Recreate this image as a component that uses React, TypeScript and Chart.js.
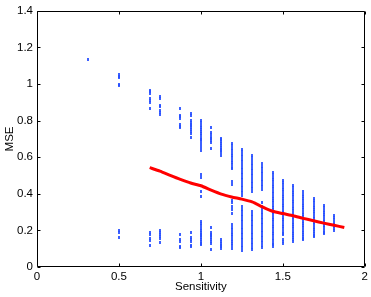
import React, { useEffect, useRef } from 'react';
import { Chart, registerables } from 'chart.js';

Chart.register(...registerables);

// Sensitivity value of every column of MSE samples
const sensitivityColumns = [
  0.3125, 0.5, 0.6875, 0.75, 0.875, 0.9375, 1.0, 1.0625, 1.125, 1.1875,
  1.25, 1.3125, 1.375, 1.4375, 1.5, 1.5625, 1.625, 1.6875, 1.75, 1.8125,
];

// MSE samples of each column (same order as sensitivityColumns)
const mseColumns: number[][] = [
  [1.135],
  [1.05, 1.043, 1.036, 1.0, 0.993, 0.2, 0.19, 0.162],
  [0.965, 0.957, 0.948, 0.92, 0.91, 0.9, 0.865, 0.19, 0.18, 0.155, 0.147, 0.12],
  [0.93, 0.92, 0.885, 0.875, 0.855, 0.847, 0.832, 0.2, 0.19, 0.175, 0.165, 0.155, 0.135],
  [0.868, 0.83, 0.82, 0.81, 0.78, 0.77, 0.762, 0.178, 0.148, 0.138, 0.114, 0.105],
  [0.84, 0.828, 0.8, 0.79, 0.78, 0.772, 0.76, 0.75, 0.74, 0.73, 0.71, 0.19, 0.16, 0.15, 0.14, 0.12, 0.11],
  [0.8, 0.79, 0.775, 0.76, 0.75, 0.74, 0.73, 0.72, 0.705, 0.695, 0.685, 0.67, 0.655, 0.635,
    0.505, 0.49, 0.415, 0.388,
    0.25, 0.24, 0.228, 0.21, 0.2, 0.19, 0.18, 0.17, 0.16, 0.15, 0.14, 0.13, 0.122],
  [0.762, 0.735, 0.722, 0.71, 0.7, 0.69, 0.68, 0.65,
    0.215, 0.19, 0.18, 0.17, 0.16, 0.15, 0.14, 0.13, 0.096],
  [0.705, 0.695, 0.685, 0.675, 0.665, 0.655, 0.645, 0.635, 0.625, 0.612,
    0.15, 0.14, 0.13, 0.12, 0.11, 0.1],
  [0.675, 0.662, 0.649, 0.636, 0.623, 0.61, 0.597, 0.584, 0.571, 0.558, 0.545, 0.537,
    0.465, 0.452, 0.365, 0.35, 0.33, 0.315, 0.295,
    0.23, 0.218, 0.205, 0.19, 0.178, 0.165, 0.15, 0.14, 0.128, 0.115, 0.103],
  [0.643, 0.63, 0.616, 0.602, 0.588, 0.574, 0.56, 0.546, 0.532, 0.518, 0.504, 0.49, 0.476,
    0.462, 0.448, 0.434, 0.42, 0.405, 0.39,
    0.33, 0.316, 0.302, 0.288, 0.274, 0.26, 0.246, 0.232, 0.218, 0.204, 0.19, 0.176, 0.162,
    0.148, 0.134, 0.12, 0.108, 0.09],
  [0.61, 0.596, 0.582, 0.568, 0.554, 0.54, 0.526, 0.512, 0.498, 0.484, 0.47, 0.456, 0.442,
    0.428, 0.413,
    0.303, 0.289, 0.275, 0.261, 0.247, 0.233, 0.219, 0.205, 0.191, 0.177, 0.163, 0.149,
    0.135, 0.121, 0.107, 0.093],
  [0.565, 0.551, 0.537, 0.523, 0.509, 0.495, 0.481, 0.467, 0.453, 0.439, 0.425,
    0.35, 0.33, 0.315, 0.3, 0.286, 0.272, 0.258, 0.244, 0.23, 0.216, 0.202, 0.188, 0.174,
    0.16, 0.146, 0.132, 0.118, 0.105],
  [0.514, 0.503, 0.49, 0.478, 0.465, 0.452, 0.44, 0.427, 0.414, 0.401, 0.388, 0.376, 0.363,
    0.35, 0.337, 0.324, 0.312, 0.299, 0.286, 0.273, 0.26, 0.247, 0.235, 0.222, 0.209, 0.196,
    0.183, 0.17, 0.158, 0.145, 0.13, 0.122, 0.112],
  [0.474, 0.462, 0.449, 0.437, 0.424, 0.411, 0.399, 0.386, 0.374, 0.361, 0.348, 0.336, 0.323,
    0.31, 0.298, 0.285, 0.272, 0.26, 0.247, 0.234, 0.222, 0.209, 0.196, 0.184, 0.176, 0.15,
    0.142, 0.13],
  [0.445, 0.433, 0.42, 0.408, 0.395, 0.383, 0.37, 0.358, 0.345, 0.333, 0.32, 0.308, 0.295,
    0.283, 0.27, 0.258, 0.245, 0.233, 0.22, 0.208, 0.195, 0.183, 0.17, 0.16, 0.148, 0.139],
  [0.41, 0.398, 0.386, 0.373, 0.361, 0.349, 0.337, 0.324, 0.312, 0.3, 0.288, 0.275, 0.263,
    0.251, 0.239, 0.226, 0.214, 0.202, 0.19, 0.178, 0.167, 0.158, 0.152],
  [0.374, 0.362, 0.35, 0.338, 0.326, 0.314, 0.302, 0.29, 0.278, 0.266, 0.254, 0.242, 0.23,
    0.218, 0.206, 0.194, 0.182, 0.174, 0.166],
  [0.336, 0.325, 0.31, 0.298, 0.286, 0.274, 0.262, 0.25, 0.238, 0.226, 0.214, 0.202, 0.19, 0.184],
  [0.284, 0.272, 0.26, 0.245, 0.233, 0.221, 0.21, 0.2],
];

// Red mean curve
const curveSensitivity = [
  0.6875, 0.75, 0.8125, 0.875, 0.9375, 1.0, 1.0625, 1.125, 1.1875, 1.25,
  1.3125, 1.375, 1.4375, 1.5, 1.5625, 1.625, 1.6875, 1.75, 1.8125, 1.875,
];
const curveMSE = [
  0.543, 0.524, 0.501, 0.479, 0.459, 0.444, 0.42, 0.398, 0.383, 0.371,
  0.356, 0.329, 0.305, 0.292, 0.28, 0.266, 0.253, 0.24, 0.228, 0.216,
];

const xTickLabels = ['0', '0.5', '1', '1.5', '2'];
const yTickLabels = ['0', '0.2', '0.4', '0.6', '0.8', '1', '1.2', '1.4'];

const FONT = "'Liberation Sans', Arial, Helvetica, sans-serif";

function makeDot(): HTMLCanvasElement {
  const c = document.createElement('canvas');
  c.width = 2;
  c.height = 3;
  const g = c.getContext('2d')!;
  g.fillStyle = 'rgba(40,80,255,0.9)';
  g.fillRect(0, 0, 2, 3);
  return c;
}

const boxPlugin = {
  id: 'matlabBox',
  afterDraw(chart: any) {
    const { ctx, chartArea: a, scales } = chart;
    const L = Math.round(a.left) + 0.5;
    const R = Math.round(a.right) - 0.5;
    const T = Math.round(a.top) + 0.5;
    const B = Math.round(a.bottom) - 0.5;
    const tl = 3;
    ctx.save();
    ctx.strokeStyle = '#000';
    ctx.lineWidth = 1;
    ctx.beginPath();
    ctx.rect(L, T, R - L, B - T);
    scales.x.ticks.forEach((t: any) => {
      const px = Math.round(scales.x.getPixelForValue(t.value)) + 0.5;
      ctx.moveTo(px, B);
      ctx.lineTo(px, B - tl);
      ctx.moveTo(px, T);
      ctx.lineTo(px, T + tl);
    });
    scales.y.ticks.forEach((t: any) => {
      const py = Math.round(scales.y.getPixelForValue(t.value)) + 0.5;
      ctx.moveTo(L, py);
      ctx.lineTo(L + tl, py);
      ctx.moveTo(R, py);
      ctx.lineTo(R - tl, py);
    });
    ctx.stroke();
    ctx.restore();
  },
};

export default function App() {
  const ref = useRef<HTMLCanvasElement | null>(null);

  useEffect(() => {
    if (!ref.current) return;
    const dot = makeDot();
    const scatterPoints: { x: number; y: number }[] = [];
    sensitivityColumns.forEach((s, i) => {
      mseColumns[i].forEach((m) => scatterPoints.push({ x: s, y: m }));
    });
    const curvePoints = curveSensitivity.map((s, i) => ({ x: s, y: curveMSE[i] }));

    const chart = new Chart(ref.current, {
      type: 'scatter',
      data: {
        datasets: [
          {
            label: 'mean',
            data: curvePoints,
            showLine: true,
            borderColor: 'rgb(255,0,0)',
            borderWidth: 3,
            pointRadius: 0,
            tension: 0.2,
            order: 0,
          } as any,
          {
            label: 'samples',
            data: scatterPoints,
            pointStyle: dot,
            pointRadius: 1,
            backgroundColor: 'rgb(40,80,255)',
            borderWidth: 0,
            order: 1,
          } as any,
        ],
      },
      options: {
        animation: false,
        responsive: false,
        events: [],
        layout: { padding: { top: 9, right: 6, left: 0, bottom: 0 } },
        plugins: { legend: { display: false }, tooltip: { enabled: false } },
        scales: {
          x: {
            type: 'linear',
            min: 0,
            max: 2,
            grid: { display: false, drawTicks: false },
            border: { display: false },
            afterFit: (s: any) => { s.height = 30; },
            ticks: {
              stepSize: 0.5,
              padding: 3,
              color: '#000',
              font: { family: FONT, size: 11.5 },
              maxRotation: 0,
              callback: (_v: any, i: number) => xTickLabels[i],
            },
            title: {
              display: true,
              text: 'Sensitivity',
              color: '#000',
              font: { family: FONT, size: 11.5 },
              padding: { top: 0, bottom: 3 },
            },
          },
          y: {
            type: 'linear',
            min: 0,
            max: 1.4,
            grid: { display: false, drawTicks: false },
            border: { display: false },
            afterFit: (s: any) => { s.width = 37; },
            ticks: {
              stepSize: 0.2,
              padding: 4,
              color: '#000',
              font: { family: FONT, size: 11.5 },
              callback: (_v: any, i: number) => yTickLabels[i],
            },
            title: {
              display: true,
              text: 'MSE',
              color: '#000',
              font: { family: FONT, size: 11.5 },
              padding: { top: 3, bottom: 0 },
            },
          },
        },
      },
      plugins: [boxPlugin],
    });
    return () => chart.destroy();
  }, []);

  return (
    <div style={{ position: 'fixed', left: 0, top: 0, width: 371, height: 297, background: '#fff' }}>
      <canvas ref={ref} width={371} height={297} style={{ display: 'block' }} />
    </div>
  );
}
